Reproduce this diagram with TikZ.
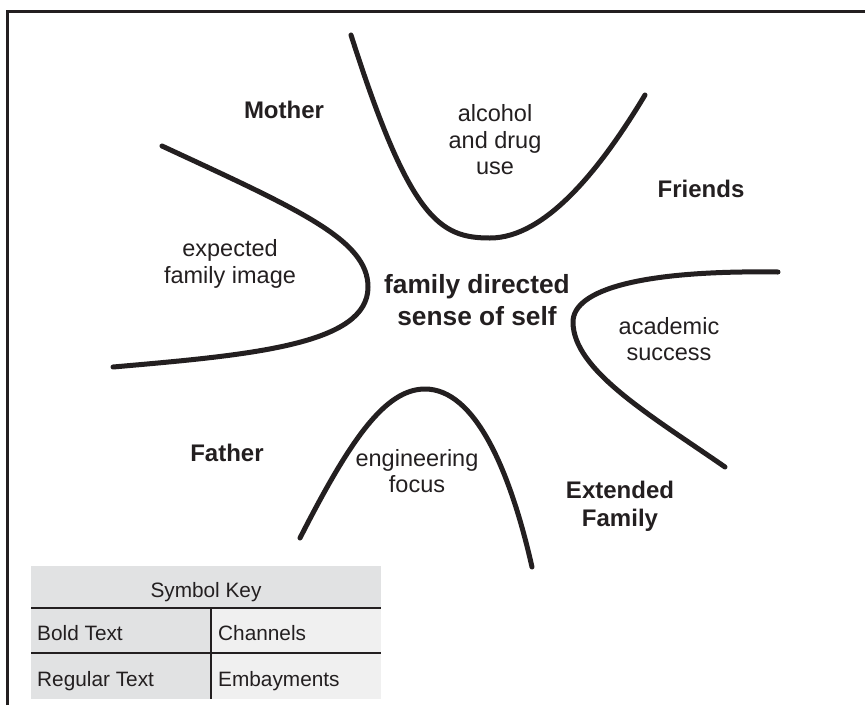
\documentclass[tikz,border=0pt]{standalone}
\usepackage{fontspec}
\setmainfont{Liberation Sans}
\usetikzlibrary{positioning}
\definecolor{ink}{HTML}{231F20}
\definecolor{keygray}{HTML}{E1E2E3}
\definecolor{keylight}{HTML}{F0F0F0}
\tikzset{
  wall/.style={draw=ink, line width=5pt, line cap=round},
  chan/.style={font=\fontsize{24}{28}\selectfont\bfseries, text=ink, align=center, inner sep=0pt},
  emb/.style={font=\fontsize{23.5}{26.5}\selectfont, text=ink, align=center, inner sep=0pt},
  core/.style={font=\fontsize{26.3}{32}\selectfont\bfseries, text=ink, align=center, inner sep=0pt},
  keytxt/.style={font=\fontsize{20.8}{24}\selectfont, text=ink, inner sep=0pt},
  keyrule/.style={draw=ink, line width=1.6pt},
}

\begin{document}
\begin{tikzpicture}[x=1pt, y=-1pt]
  \useasboundingbox (0,0) rectangle (865,705);

  % frame
  \draw[ink, line width=3pt] (7,705) -- (7,11) -- (865,11);

  % embayment walls
  \draw[wall] (351,35) .. controls (410,220) and (440,238) .. (490,238)
    .. controls (545,238) and (600,170) .. (645,95);
  \draw[wall] (162,146) .. controls (300,210) and (368,240) .. (368,287)
    .. controls (368,345) and (250,355) .. (113,367);
  \draw[wall] (778,272) .. controls (640,270) and (573,290) .. (573,322)
    .. controls (573,370) and (650,415) .. (725,467);
  \draw[wall] (300,538) .. controls (350,440) and (385,389) .. (425,389)
    .. controls (475,389) and (510,470) .. (532,567);

  % centre
  \node[core] (self) at (477,300) {family directed\\sense of self};

  % embayments
  \node[emb] (drug) at (495,140) {alcohol\\and drug\\use};
  \node[emb] (image) at (230,264) {expected\\family image};
  \node[emb] (acad) at (669,339) {academic\\success};
  \node[emb] (eng) at (417,471) {engineering\\focus};

  % channels
  \node[chan, anchor=base] (mother) at (284,118) {Mother};
  \node[chan, anchor=base] (friends) at (701,197) {Friends};
  \node[chan, anchor=base] (father) at (227,461) {Father};
  \node[chan] (extended) at (620,506) {Extended\\Family};

  % symbol key
  \fill[keygray] (31,566) rectangle (381,699);
  \fill[keylight] (211,608) rectangle (381,699);
  \draw[keyrule] (31,608) -- (381,608);
  \draw[keyrule] (31,653) -- (381,653);
  \draw[keyrule] (211,608) -- (211,699);
  \node[keytxt, anchor=base] (keyhead) at (206,597) {Symbol Key};
  \node[keytxt, anchor=base west] (bold) at (37,640) {Bold Text};
  \node[keytxt, anchor=base west] (chans) at (218,640) {Channels};
  \node[keytxt, anchor=base west] (reg) at (37,686) {Regular Text};
  \node[keytxt, anchor=base west] (embs) at (218,686) {Embayments};
\end{tikzpicture}
\end{document}
